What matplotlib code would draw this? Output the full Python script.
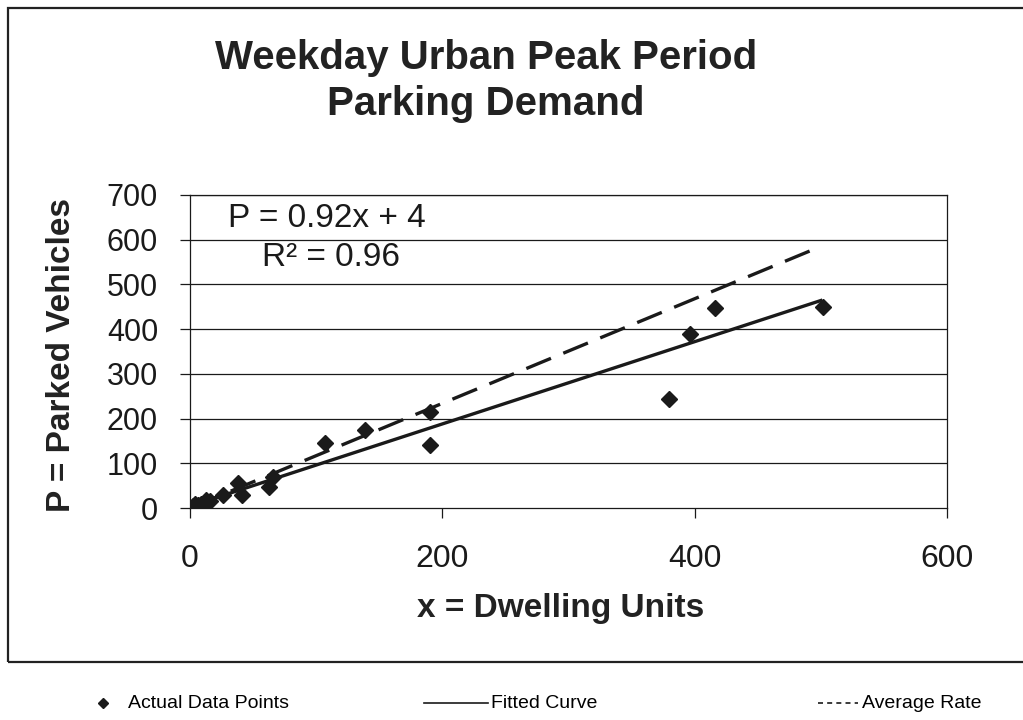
"""
Weekday urban peak period parking demand - scatter with fitted and average-rate lines
"""
import matplotlib
matplotlib.use("Agg")
import matplotlib.pyplot as plt
from matplotlib.lines import Line2D
from matplotlib.patches import Rectangle
import numpy as np

dwelling_units = [2, 4, 6, 9, 13, 16, 26, 38, 41, 63, 66, 107, 139, 190, 190, 380, 396, 416, 502]
parked_vehicles = [4, 8, 6, 10, 17, 15, 28, 55, 28, 46, 69, 145, 175, 215, 140, 244, 389, 448, 450]

# Line parameters
fit_slope, fit_intercept = 0.92, 4
avg_rate = 1.17
line_x = [3, 500]

x_ticks = [0, 200, 400, 600]
y_ticks = [0, 100, 200, 300, 400, 500, 600, 700]

title = "Weekday Urban Peak Period\nParking Demand"
legend_labels = ["Actual Data Points", "Fitted Curve", "Average Rate"]

W, H = 1023, 720
plt.rcParams["font.family"] = ["Liberation Sans", "DejaVu Sans"]

fig = plt.figure(figsize=(W / 100, H / 100), dpi=100)
fig.patch.set_facecolor("white")


def fx(px):
    return px / W


def fy(py):
    return 1 - py / H


# outer chart border
fig.patches.append(Rectangle((fx(8), fy(662)), fx(1030 - 8), (662 - 8) / H, transform=fig.transFigure,
                             fill=False, edgecolor="#222222", linewidth=1.6))

ax = fig.add_axes([fx(190), fy(508), fx(947 - 190), (508 - 195) / H])
ax.set_xlim(0, 600)
ax.set_ylim(0, 700)

for y in y_ticks[1:]:
    ax.axhline(y, color="#1a1a1a", linewidth=0.9, zorder=1)

xs = np.array(line_x)
ax.plot(xs, avg_rate * xs, color="#1a1a1a", linewidth=2.4, dashes=(8, 4), zorder=3)
ax.plot(xs, fit_slope * xs + fit_intercept, color="#1a1a1a", linewidth=2.4, zorder=3)
ax.plot(dwelling_units, parked_vehicles, linestyle="none", marker="D", markersize=8.5,
        color="#1a1a1a", zorder=4)

for side in ax.spines.values():
    side.set_color("#1a1a1a")
    side.set_linewidth(0.9)

ax.set_xticks(x_ticks)
ax.set_yticks(y_ticks)
ax.tick_params(axis="y", direction="out", length=7, width=0.9, pad=16, labelsize=22, colors="#1a1a1a")
ax.tick_params(axis="x", direction="out", length=7, width=0.9, pad=19, labelsize=23, colors="#1a1a1a")

ax.text(30, 648, "P = 0.92x + 4", fontsize=24, va="center", ha="left", color="#1a1a1a")
ax.text(57, 560, "R² = 0.96", fontsize=24, va="center", ha="left", color="#1a1a1a")

fig.text(fx(486), fy(81), title, ha="center", va="center", fontsize=29, fontweight="bold",
         linespacing=1.25, color="#222222")
fig.text(fx(62), fy(355), "P = Parked Vehicles", rotation=90, ha="center", va="center",
         fontsize=24, fontweight="bold", color="#222222")
fig.text(fx(561), fy(608), "x = Dwelling Units", ha="center", va="center",
         fontsize=24, fontweight="bold", color="#222222")

# legend row below the chart box
ly = fy(703)
fig.lines.append(Line2D([fx(103)], [ly], transform=fig.transFigure, marker="D", markersize=5.5,
                        color="#1a1a1a", linestyle="none"))
fig.text(fx(128), ly, legend_labels[0], ha="left", va="center", fontsize=14)
fig.lines.append(Line2D([fx(424), fx(488)], [ly, ly], transform=fig.transFigure,
                        color="#1a1a1a", linewidth=1.2))
fig.text(fx(491), ly, legend_labels[1], ha="left", va="center", fontsize=14)
fig.lines.append(Line2D([fx(818), fx(858)], [ly, ly], transform=fig.transFigure,
                        color="#1a1a1a", linewidth=1.2, dashes=(3, 2.5)))
fig.text(fx(862), ly, legend_labels[2], ha="left", va="center", fontsize=14)

fig.savefig("out.png", dpi=100, facecolor="white")
